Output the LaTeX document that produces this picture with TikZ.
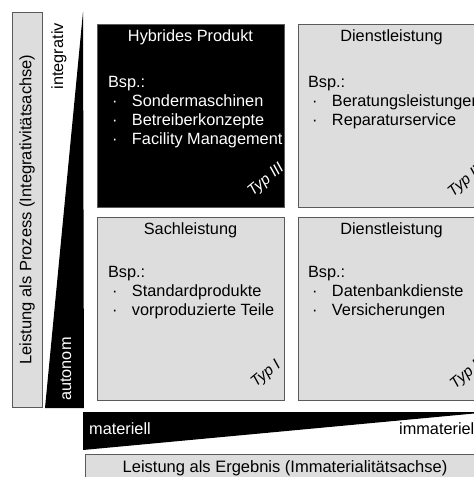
\documentclass[tikz,border=0pt]{standalone}
\usepackage{fontspec}
\setmainfont{Liberation Sans}
\usetikzlibrary{positioning}
\definecolor{cellgray}{RGB}{221,221,221}
\definecolor{edgegray}{RGB}{90,90,90}

\newcommand{\bspitem}[1]{\makebox[24pt][l]{\hspace{4pt}·}#1}

\tikzset{
  cell/.style={draw=edgegray, fill=cellgray, minimum width=187pt, minimum height=183pt, inner sep=0pt},
  celltitle/.style={anchor=base, inner sep=0pt, font=\fontsize{16.3}{19}\selectfont},
  cellbody/.style={anchor=base west, inner sep=0pt, font=\fontsize{16.3}{19}\selectfont},
  typlabel/.style={rotate=40, inner sep=0pt, font=\fontsize{15.5}{18}\selectfont\itshape},
  axisbox/.style={draw=edgegray, fill=cellgray, inner sep=0pt, font=\fontsize{16.5}{19}\selectfont},
  axislabel/.style={inner sep=0pt, font=\fontsize{16.3}{19}\selectfont}
}

\begin{document}
\begin{tikzpicture}[x=1pt, y=-1pt]
  \useasboundingbox (0,0) rectangle (474,477);
  \clip (0,0) rectangle (474,477);

  % Prozessachse (links)
  \node[axisbox, rotate=90, minimum width=395pt, minimum height=30pt] (proc) at (27,209.5)
    {Leistung als Prozess (Integrativitätsachse)};
  \fill[black] (83,12) -- (84,408) -- (45,408) -- cycle;
  \node[axislabel, rotate=90, anchor=east] (integ) at (59,23) {integrativ};
  \node[axislabel, rotate=90, anchor=west, white] (auton) at (66,401) {autonom};

  % Typ III
  \node[cell, fill=black] (hyb) at (190.5,115.5) {};
  \node[celltitle, white] (hybtitle) at ([yshift=-18pt]hyb.north) {Hybrides Produkt};
  \node[cellbody, white] (hybtext) at ([xshift=11pt, yshift=-64pt]hyb.north west)
    {\begin{tabular}[t]{@{}l@{}}Bsp.:\\ \bspitem{Sondermaschinen}\\
     \bspitem{Betreiberkonzepte}\\ \bspitem{Facility Management}\end{tabular}};
  \node[typlabel, white] (hybtyp) at ([xshift=-18pt, yshift=27pt]hyb.south east) {Typ III};

  % Typ IV
  \node[cell] (dienstA) at (391.5,115.5) {};
  \node[celltitle] (dienstAtitle) at ([yshift=-18pt]dienstA.north) {Dienstleistung};
  \node[cellbody] (dienstAtext) at ([xshift=10pt, yshift=-64pt]dienstA.north west)
    {\begin{tabular}[t]{@{}l@{}}Bsp.:\\ \bspitem{Beratungsleistungen}\\
     \bspitem{Reparaturservice}\end{tabular}};
  \node[typlabel] (dienstAtyp) at ([xshift=-18pt, yshift=27pt]dienstA.south east) {Typ IV};

  % Typ I
  \node[cell] (sach) at (190.5,308.5) {};
  \node[celltitle] (sachtitle) at ([yshift=-18pt]sach.north) {Sachleistung};
  \node[cellbody] (sachtext) at ([xshift=11pt, yshift=-61pt]sach.north west)
    {\begin{tabular}[t]{@{}l@{}}Bsp.:\\ \bspitem{Standardprodukte}\\
     \bspitem{vorproduzierte Teile}\end{tabular}};
  \node[typlabel] (sachtyp) at ([xshift=-18pt, yshift=26pt]sach.south east) {Typ I};

  % Typ II
  \node[cell] (dienstB) at (391.5,308.5) {};
  \node[celltitle] (dienstBtitle) at ([yshift=-18pt]dienstB.north) {Dienstleistung};
  \node[cellbody] (dienstBtext) at ([xshift=10pt, yshift=-61pt]dienstB.north west)
    {\begin{tabular}[t]{@{}l@{}}Bsp.:\\ \bspitem{Datenbankdienste}\\
     \bspitem{Versicherungen}\end{tabular}};
  \node[typlabel] (dienstBtyp) at ([xshift=-18pt, yshift=26pt]dienstB.south east) {Typ II};

  % Ergebnisachse (unten)
  \fill[black] (83,412) -- (490,412) -- (83,450) -- cycle;
  \node[axislabel, anchor=base west, white] (mat) at (89,434) {materiell};
  \node[axislabel, anchor=base west] (immat) at (399,434) {immateriell};
  \node[axisbox, minimum width=400pt, minimum height=28pt] (erg) at (285,468)
    {Leistung als Ergebnis (Immaterialitätsachse)};
\end{tikzpicture}
\end{document}
